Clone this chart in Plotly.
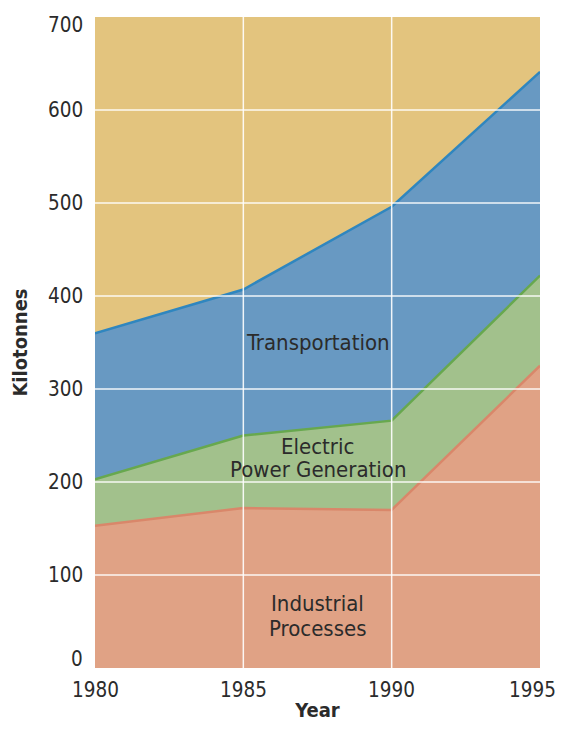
import plotly.graph_objects as go

years = [1980, 1985, 1990, 1995]
industrial = [153, 172, 170, 325]
electric = [50, 78, 96, 97]
transportation = [157, 157, 230, 219]
y_ticks = [0, 100, 200, 300, 400, 500, 600, 700]
x_ticks = [1980, 1985, 1990, 1995]

FONT = "DejaVu Sans Condensed, Liberation Sans Narrow, sans-serif"
TXT = "#2b2b2b"
TICK_SIZE = 20.5

fig = go.Figure()
series = [
    ("Industrial Processes", industrial, "#E0A285", "#D9876A"),
    ("Electric Power Generation", electric, "#A2C18C", "#67A84E"),
    ("Transportation", transportation, "#6899C2", "#2F86BF"),
]
for name, vals, fill, line in series:
    fig.add_trace(go.Scatter(
        x=years, y=vals, name=name, stackgroup="one", mode="lines",
        line=dict(color=line, width=2.5), fillcolor=fill, hoverinfo="x+y+name",
    ))

shapes = []
for v in y_ticks[1:-1]:
    shapes.append(dict(type="line", xref="paper", yref="y", x0=0, x1=1, y0=v, y1=v,
                       line=dict(color="rgba(255,255,255,0.9)", width=1.5), layer="above"))
for v in x_ticks[1:-1]:
    shapes.append(dict(type="line", xref="x", yref="paper", x0=v, x1=v, y0=0, y1=1,
                       line=dict(color="rgba(255,255,255,0.9)", width=1.5), layer="above"))

ann_font = dict(size=22, family=FONT, color=TXT)
labels = [
    ("Transportation", 350),
    ("Electric", 238),
    ("Power Generation", 213),
    ("Industrial", 69),
    ("Processes", 43),
]
annotations = [dict(x=1987.5, y=yv, text=t, showarrow=False, font=ann_font) for t, yv in labels]
tick_font = dict(size=TICK_SIZE, family=FONT, color=TXT)

# y tick labels (end labels kept inside the plot's vertical span, as in the reference)
for v in y_ticks:
    if v == y_ticks[0]:
        ya, ys = "bottom", -4
    elif v == y_ticks[-1]:
        ya, ys = "top", 5
    else:
        ya, ys = "middle", 0
    annotations.append(dict(xref="paper", yref="y", x=0, y=v, text=str(v), showarrow=False,
                            xanchor="right", yanchor=ya, xshift=-11, yshift=ys, borderpad=0,
                            font=tick_font))

# x tick labels (last one kept inside the window edge)
for v in x_ticks:
    if v == x_ticks[-1]:
        xa, xs = "right", 17
    else:
        xa, xs = "center", 0
    annotations.append(dict(xref="x", yref="paper", x=v, y=0, text=str(v), showarrow=False,
                            xanchor=xa, yanchor="top", xshift=xs, yshift=-9, borderpad=0,
                            font=tick_font))

fig.update_layout(
    width=557, height=714,
    margin=dict(l=87, r=25, t=9, b=54),
    paper_bgcolor="white", plot_bgcolor="#E3C47E",
    showlegend=False,
    shapes=shapes,
    font=dict(family=FONT, color=TXT, size=21),
    xaxis=dict(range=[1980, 1995], tickvals=x_ticks, showgrid=False, zeroline=False,
               ticks="", showticklabels=False, automargin=False,
               title=dict(text="<b>Year</b>", font=dict(size=20, family=FONT, color=TXT), standoff=38),
               showline=False),
    yaxis=dict(range=[0, 700], tickvals=y_ticks, showgrid=False, zeroline=False,
               ticks="", showticklabels=False, automargin=False,
               title=dict(text="<b>Kilotonnes</b>", font=dict(size=20, family=FONT, color=TXT), standoff=62),
               showline=False),
    annotations=annotations,
)

fig.write_html("out.html")
